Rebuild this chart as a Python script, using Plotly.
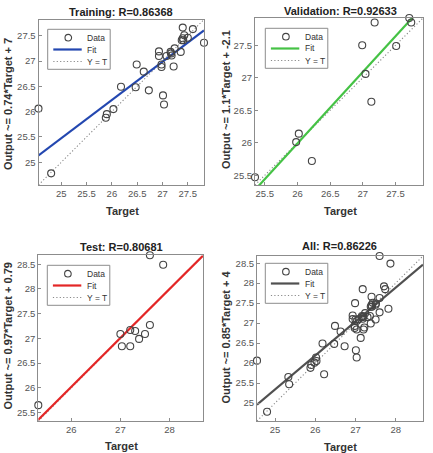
import plotly.graph_objects as go

# ---------------- data ----------------
train_target = [24.55, 24.80, 25.88, 25.90, 26.03, 26.18, 26.47, 26.49, 26.63, 26.73,
                26.93, 26.93, 26.98, 26.98, 27.01, 27.03, 27.08, 27.16, 27.17, 27.18,
                27.22, 27.24, 27.36, 27.38, 27.40, 27.41, 27.40, 27.43, 27.50, 27.60, 27.82]
train_output = [26.06, 24.78, 25.88, 25.95, 26.05, 26.49, 26.48, 26.93, 26.79, 26.42,
                27.19, 27.10, 26.93, 26.88, 26.32, 26.14, 27.10, 27.18, 27.15, 27.11,
                26.89, 27.25, 27.18, 27.41, 27.45, 27.41, 27.66, 27.51, 27.46, 27.63, 27.36]

val_target = [25.35, 25.98, 26.02, 26.22, 26.99, 27.04, 27.13, 27.18, 27.51, 27.71, 27.74]
val_output = [25.47, 26.01, 26.14, 25.72, 27.50, 27.06, 26.63, 27.85, 27.49, 27.92, 27.85]

test_target = [25.33, 27.00, 27.03, 27.20, 27.20, 27.30, 27.38, 27.50, 27.60, 27.60, 27.87]
test_output = [25.65, 27.09, 26.84, 26.84, 27.17, 27.15, 26.99, 27.09, 27.27, 28.68, 28.49]

all_target = train_target + val_target + test_target
all_output = train_output + val_output + test_output

panel_names = ["Training", "Validation", "Test", "All"]
r_values = ["0.86368", "0.92633", "0.80681", "0.86226"]
ylabels = ["Output ~= 0.74*Target + 7", "Output ~= 1.1*Target + -2.1",
           "Output ~= 0.97*Target + 0.79", "Output ~= 0.85*Target + 4"]
fit_slope = [0.755, 1.10, 0.99, 0.85]
fit_intercept = [6.6, -2.61, 0.28, 4.09]
fit_colors = ["#2347b0", "#45c245", "#e32626", "#505050"]
legend_labels = ["Data", "Fit", "Y = T"]

x_ticks = [[25, 25.5, 26, 26.5, 27, 27.5],
           [25.5, 26, 26.5, 27, 27.5],
           [26, 27, 28],
           [25, 26, 27, 28]]
y_ticks = [[25, 25.5, 26, 26.5, 27, 27.5],
           [25.5, 26, 26.5, 27, 27.5],
           [25.5, 26, 26.5, 27, 27.5, 28, 28.5],
           [25, 25.5, 26, 26.5, 27, 27.5, 28, 28.5]]

# ---------------- layout geometry (pixels) ----------------
W, H = 433, 453
boxes = [(38.5, 204, 19.5, 185), (255, 423, 18, 185),
         (38.3, 203, 255.3, 421), (257, 423, 256, 421)]
legend_pos = [(47.7, 29.3), (265.3, 28.3), (47.3, 265.3), (265.3, 263.3)]
title_pos = [(121, 12), (340, 11), (121.5, 246.5), (339, 246)]
xlabel_pos = [(122, 211), (340.5, 211), (121.7, 446), (340, 446.5)]
ylabel_pos = [(8, 104), (226, 100), (7.5, 336), (225.5, 337)]

sets = [(train_target, train_output), (val_target, val_output),
        (test_target, test_output), (all_target, all_output)]

FONT = "Liberation Sans, Arial, Helvetica, sans-serif"
MARK_COLOR = "#444444"
YT_COLOR = "#8a8a8a"
YT_DASH = "1.2px,2.2px"
fig = go.Figure()
annotations = []
shapes = []


def px(xp):
    return xp / W


def py(yp):
    return 1 - yp / H


for i in range(4):
    tx, ty = sets[i]
    lo = min(min(tx), min(ty))
    hi = max(max(tx), max(ty))
    sfx = "" if i == 0 else str(i + 1)
    xa, ya = "x" + sfx, "y" + sfx

    fig.add_trace(go.Scatter(x=[lo, hi], y=[lo, hi], mode="lines", name="Y = T",
                             line=dict(color=YT_COLOR, width=1.1, dash=YT_DASH),
                             xaxis=xa, yaxis=ya, showlegend=False))
    fig.add_trace(go.Scatter(x=[lo, hi],
                             y=[fit_slope[i] * lo + fit_intercept[i], fit_slope[i] * hi + fit_intercept[i]],
                             mode="lines", name="Fit",
                             line=dict(color=fit_colors[i], width=2.2),
                             xaxis=xa, yaxis=ya, showlegend=False))
    fig.add_trace(go.Scatter(x=tx, y=ty, mode="markers", name="Data",
                             marker=dict(symbol="circle-open", size=7, color=MARK_COLOR,
                                         line=dict(width=1.1, color=MARK_COLOR)),
                             cliponaxis=False,
                             xaxis=xa, yaxis=ya, showlegend=False))

    x0, x1, y0, y1 = boxes[i]
    axis_common = dict(showline=True, mirror=True, linecolor="#8c8c8c", linewidth=1,
                       ticks="inside", ticklen=3, tickcolor="#8c8c8c",
                       showgrid=False, zeroline=False,
                       tickfont=dict(family=FONT, size=9.5, color="#555555"))
    fig.update_layout(**{
        "xaxis" + sfx: dict(domain=[x0 / W, x1 / W], range=[lo, hi], anchor=ya,
                            tickvals=x_ticks[i], **axis_common),
        "yaxis" + sfx: dict(domain=[1 - y1 / H, 1 - y0 / H], range=[lo, hi], anchor=xa,
                            tickvals=y_ticks[i], **axis_common),
    })

    # ---- legend box (MATLAB style, compact) ----
    lx, ly = legend_pos[i]
    lw, lh = 62.5, 40
    shapes.append(dict(type="rect", xref="paper", yref="paper",
                       x0=px(lx), x1=px(lx + lw), y0=py(ly + lh), y1=py(ly),
                       line=dict(color="#8c8c8c", width=1), fillcolor="white", layer="above"))
    rows = [ly + 8.4, ly + 20.2, ly + 32.2]
    # Data sample: open circle
    shapes.append(dict(type="circle", xref="paper", yref="paper",
                       xsizemode="pixel", ysizemode="pixel",
                       xanchor=px(lx + 20.6), yanchor=py(rows[0]),
                       x0=-3.3, x1=3.3, y0=-3.3, y1=3.3,
                       line=dict(color=MARK_COLOR, width=1.1), layer="above"))
    # Fit sample
    shapes.append(dict(type="line", xref="paper", yref="paper",
                       x0=px(lx + 5.6), x1=px(lx + 34), y0=py(rows[1]), y1=py(rows[1]),
                       line=dict(color=fit_colors[i], width=2.2), layer="above"))
    # Y = T sample
    shapes.append(dict(type="line", xref="paper", yref="paper",
                       x0=px(lx + 5.6), x1=px(lx + 34), y0=py(rows[2]), y1=py(rows[2]),
                       line=dict(color=YT_COLOR, width=1.1, dash=YT_DASH), layer="above"))
    for lab, ry in zip(legend_labels, rows):
        annotations.append(dict(x=px(lx + 37.3), y=py(ry), xref="paper", yref="paper",
                                xanchor="left", yanchor="middle", showarrow=False,
                                text=lab, font=dict(family=FONT, size=8.5, color="#333333")))

    annotations.append(dict(x=px(title_pos[i][0]), y=py(title_pos[i][1]),
                            xref="paper", yref="paper", showarrow=False,
                            xanchor="center", yanchor="middle",
                            text=f"{panel_names[i]}: R={r_values[i]}",
                            font=dict(family=FONT, size=11, color="#222222", weight="bold")))
    annotations.append(dict(x=px(xlabel_pos[i][0]), y=py(xlabel_pos[i][1]),
                            xref="paper", yref="paper", showarrow=False,
                            xanchor="center", yanchor="middle", text="Target",
                            font=dict(family=FONT, size=11, color="#333333", weight="bold")))
    annotations.append(dict(x=px(ylabel_pos[i][0]), y=py(ylabel_pos[i][1]),
                            xref="paper", yref="paper", showarrow=False,
                            xanchor="center", yanchor="middle", text=ylabels[i],
                            textangle=-90,
                            font=dict(family=FONT, size=11, color="#333333", weight="bold")))

fig.update_layout(width=W, height=H, autosize=False,
                  margin=dict(l=0, r=0, t=0, b=0),
                  paper_bgcolor="white", plot_bgcolor="white",
                  showlegend=False, annotations=annotations, shapes=shapes)

fig.write_html("out.html")
